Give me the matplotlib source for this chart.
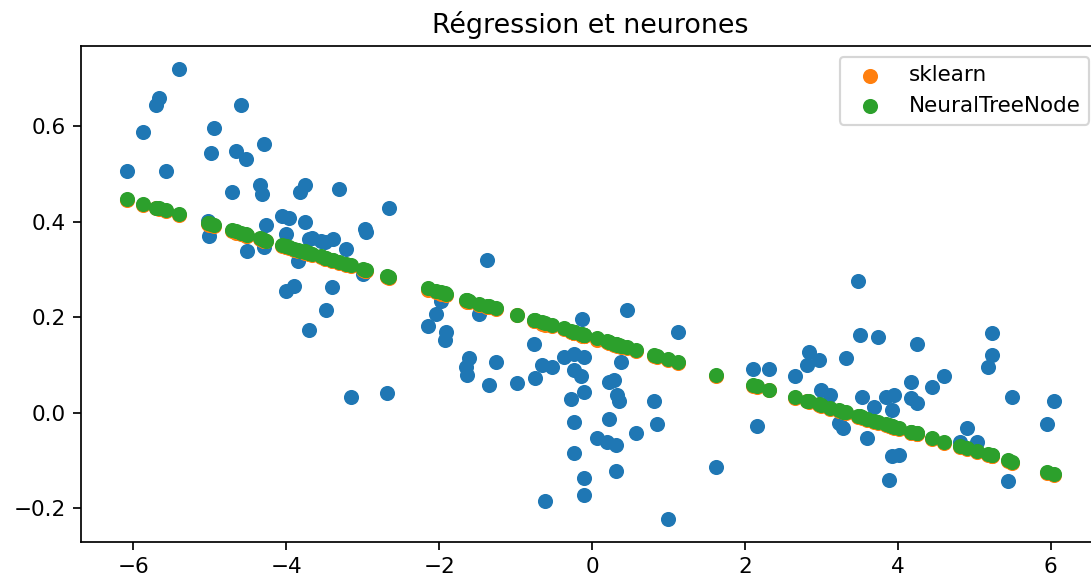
import matplotlib
matplotlib.use("Agg")
import matplotlib.pyplot as plt

x = [-6.08, -5.88, -5.70, -5.67, -5.57, -5.40, -5.03, -5.01, -4.98, -4.95,
     -4.71, -4.66, -4.59, -4.53, -4.51, -4.35, -4.32, -4.29, -4.29, -4.26,
     -4.06, -4.00, -4.00, -3.96, -3.90, -3.85, -3.82, -3.76, -3.75, -3.70,
     -3.70, -3.66, -3.55, -3.50, -3.48, -3.40, -3.39, -3.31, -3.22, -3.15,
     -3.00, -2.97, -2.96, -2.68, -2.65, -2.15, -2.04, -1.98, -1.93, -1.91,
     -1.65, -1.63, -1.61, -1.48, -1.37, -1.35, -1.26, -0.98, -0.76, -0.75,
     -0.65, -0.61, -0.52, -0.37, -0.28, -0.24, -0.24, -0.24, -0.24, -0.15,
     -0.13, -0.10, -0.10, -0.10, -0.10, 0.07, 0.20, 0.22, 0.22, 0.29,
     0.31, 0.31, 0.33, 0.35, 0.38, 0.46, 0.57, 0.81, 0.85, 1.00,
     1.12, 1.62, 2.10, 2.16, 2.31, 2.66, 2.81, 2.84, 2.97, 2.99,
     3.12, 3.23, 3.29, 3.32, 3.48, 3.50, 3.53, 3.60, 3.69, 3.74,
     3.84, 3.89, 3.93, 3.93, 3.95, 4.01, 4.17, 4.17, 4.25, 4.25,
     4.45, 4.60, 4.82, 4.91, 5.04, 5.18, 5.23, 5.23, 5.44, 5.50,
     5.95, 6.04]

y = [0.506, 0.588, 0.644, 0.660, 0.506, 0.721, 0.402, 0.370, 0.544, 0.597,
     0.463, 0.549, 0.645, 0.531, 0.340, 0.478, 0.458, 0.564, 0.347, 0.394,
     0.413, 0.374, 0.256, 0.409, 0.265, 0.319, 0.463, 0.399, 0.478, 0.364,
     0.173, 0.367, 0.360, 0.357, 0.215, 0.263, 0.364, 0.468, 0.343, 0.034,
     0.291, 0.385, 0.378, 0.041, 0.430, 0.183, 0.208, 0.235, 0.152, 0.169,
     0.096, 0.079, 0.114, 0.208, 0.321, 0.058, 0.107, 0.063, 0.144, 0.074,
     0.100, -0.185, 0.096, 0.117, 0.029, 0.124, 0.090, -0.018, -0.084, 0.078,
     0.197, 0.117, 0.043, -0.136, -0.171, -0.053, -0.060, 0.065, -0.013, 0.069,
     -0.067, -0.122, 0.037, 0.024, 0.107, 0.216, -0.041, 0.026, -0.023, -0.223,
     0.169, -0.113, 0.093, -0.027, 0.092, 0.078, 0.100, 0.128, 0.110, 0.048,
     0.038, -0.021, -0.032, 0.116, 0.277, 0.163, 0.034, -0.053, 0.013, 0.158,
     0.034, -0.141, 0.006, -0.091, 0.038, -0.088, 0.065, 0.031, 0.145, 0.020,
     0.054, 0.077, -0.060, -0.032, -0.060, 0.096, 0.121, 0.167, -0.143, 0.034,
     -0.024, 0.025]

# predictions of the NeuralTreeNode model
y_ntn = [0.448, 0.438, 0.430, 0.428, 0.424, 0.416, 0.398, 0.397, 0.396, 0.394,
         0.383, 0.380, 0.377, 0.374, 0.373, 0.366, 0.364, 0.363, 0.363, 0.361,
         0.352, 0.349, 0.349, 0.347, 0.344, 0.342, 0.340, 0.338, 0.337, 0.335,
         0.335, 0.333, 0.328, 0.325, 0.324, 0.321, 0.320, 0.316, 0.312, 0.309,
         0.302, 0.300, 0.300, 0.286, 0.285, 0.261, 0.256, 0.253, 0.251, 0.250,
         0.237, 0.236, 0.235, 0.229, 0.224, 0.223, 0.219, 0.206, 0.195, 0.195,
         0.190, 0.188, 0.184, 0.177, 0.172, 0.170, 0.170, 0.170, 0.170, 0.166,
         0.165, 0.164, 0.164, 0.164, 0.164, 0.156, 0.150, 0.149, 0.149, 0.145,
         0.144, 0.144, 0.143, 0.142, 0.141, 0.137, 0.132, 0.121, 0.119, 0.112,
         0.106, 0.079, 0.059, 0.056, 0.049, 0.033, 0.026, 0.024, 0.018, 0.017,
         0.011, 0.006, 0.003, 0.001, -0.006, -0.007, -0.009, -0.012, -0.016, -0.019,
         -0.023, -0.026, -0.028, -0.028, -0.029, -0.031, -0.039, -0.039, -0.043, -0.043,
         -0.052, -0.060, -0.070, -0.074, -0.080, -0.087, -0.089, -0.089, -0.099, -0.102,
         -0.124, -0.128]

# predictions of sklearn's regressor (almost the same, a hair lower)
y_sk = [0.446, 0.436, 0.428, 0.426, 0.422, 0.414, 0.395, 0.394, 0.393, 0.391,
        0.380, 0.377, 0.374, 0.371, 0.370, 0.364, 0.362, 0.361, 0.361, 0.359,
        0.350, 0.347, 0.347, 0.345, 0.342, 0.340, 0.338, 0.336, 0.335, 0.333,
        0.333, 0.331, 0.326, 0.323, 0.322, 0.319, 0.318, 0.314, 0.310, 0.307,
        0.300, 0.298, 0.298, 0.284, 0.283, 0.258, 0.253, 0.250, 0.248, 0.247,
        0.234, 0.233, 0.232, 0.227, 0.222, 0.221, 0.217, 0.204, 0.193, 0.193,
        0.187, 0.185, 0.181, 0.175, 0.170, 0.168, 0.168, 0.168, 0.168, 0.164,
        0.162, 0.161, 0.161, 0.161, 0.161, 0.153, 0.148, 0.147, 0.147, 0.143,
        0.142, 0.142, 0.141, 0.140, 0.139, 0.135, 0.130, 0.119, 0.117, 0.110,
        0.104, 0.077, 0.057, 0.054, 0.047, 0.031, 0.024, 0.022, 0.016, 0.015,
        0.009, 0.004, 0.001, -0.001, -0.008, -0.009, -0.011, -0.014, -0.018, -0.021,
        -0.025, -0.028, -0.030, -0.030, -0.031, -0.033, -0.041, -0.041, -0.045, -0.045,
        -0.054, -0.062, -0.072, -0.076, -0.082, -0.089, -0.091, -0.091, -0.101, -0.104,
        -0.126, -0.130]

DPI = 155
fig = plt.figure(figsize=(1091 / DPI, 579 / DPI), dpi=DPI)
ax = fig.add_axes([81 / 1091, 37 / 579, 1019 / 1091, 496 / 579])

ax.scatter(x, y)
ax.scatter(x, y_sk, label="sklearn")
ax.scatter(x, y_ntn, label="NeuralTreeNode")
ax.set_title("Régression et neurones", fontsize=12.5)
ax.legend()

fig.savefig("out.png", dpi=DPI)
